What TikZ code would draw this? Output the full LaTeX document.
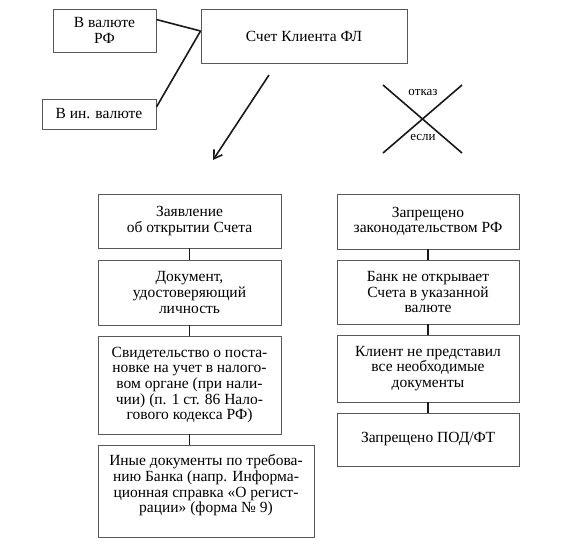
\documentclass[tikz,border=0pt]{standalone}
\usepackage{fontspec}
\setmainfont{Liberation Serif}
\usetikzlibrary{arrows.meta}
\begin{document}
\begin{tikzpicture}[x=1pt,y=-1pt,
  box/.style={draw=black!65, line width=0.9pt, align=center, inner sep=0pt, fill=white, font=\fontsize{15.5}{15.6}\selectfont},
  txt/.style={align=center, inner sep=0pt, font=\fontsize{15.5}{15.6}\selectfont},
  conn/.style={draw=black!90, line width=1.6pt},
  small/.style={inner sep=0pt, font=\fontsize{13}{14}\selectfont}]
\useasboundingbox (0,0) rectangle (562,547);
% top
\node[box, minimum width=103pt, minimum height=43pt] (vrf) at (104.5,30.5) {В валюте\\РФ};
\node[box, minimum width=114pt, minimum height=30pt] (vin) at (99,114) {В ин. валюте};
\node[box, minimum width=206pt, minimum height=54pt] (main) at (304,36) {Счет Клиента ФЛ};
\draw[conn] ([yshift=-11pt]vrf.north east) -- ([yshift=5pt]main.west);
\draw[conn] ([yshift=7pt]vin.east) -- ([yshift=5pt]main.west);
% arrow
\coordinate (a1) at (269,75);
\coordinate (a2) at (213,160);
\draw[conn, -{Straight Barb[length=8pt,width=10pt,line width=1.6pt]}] (a1) -- (a2);
% cross
\coordinate (x1) at (383,85);
\coordinate (x2) at (462,153);
\coordinate (x3) at (462,85);
\coordinate (x4) at (383,153);
\draw[conn] (x1) -- (x2);
\draw[conn] (x3) -- (x4);
\node[small] (otk) at (423,92) {отказ};
\node[small] (esl) at (423,137) {если};
% left column
\node[box, minimum width=183pt, minimum height=54pt] (l1) at (189.5,221) {Заявление\\об открытии Счета};
\node[box, minimum width=183pt, minimum height=65pt] (l2) at (189.5,292.5) {Документ,\\удостоверяющий\\личность};
\node[box, minimum width=183pt, minimum height=98pt] (l3) at (189.5,385) {Свидетельство о поста-\\новке на учет в налого-\\вом органе (при нали-\\чии) (п. 1 ст. 86 Нало-\\гового кодекса РФ)};
\node[box, minimum width=216pt, minimum height=92pt] (l4) at (206,491) {};
\node[txt, anchor=north] (l4t) at ([yshift=-10pt]l4.north) {Иные документы по требова-\\нию Банка (напр. Информа-\\ционная справка «О регист-\\рации» (форма № 9)};
\draw[conn] (l1) -- (l2);
\draw[conn] (l2) -- (l3);
\draw[conn] (l3.south) -- (l3.south |- l4.north);
% right column
\node[box, minimum width=182pt, minimum height=55pt] (r1) at (428,221.5) {Запрещено\\законодательством РФ};
\node[box, minimum width=182pt, minimum height=64pt] (r2) at (428,292) {Банк не открывает\\Счета в указанной\\валюте};
\node[box, minimum width=182pt, minimum height=67pt] (r3) at (428,368.5) {Клиент не представил\\все необходимые\\документы};
\node[box, minimum width=182pt, minimum height=53pt] (r4) at (428,439.5) {Запрещено ПОД/ФТ};
\draw[conn] (r1) -- (r2);
\draw[conn] (r2) -- (r3);
\draw[conn] (r3) -- (r4);
\end{tikzpicture}
\end{document}
